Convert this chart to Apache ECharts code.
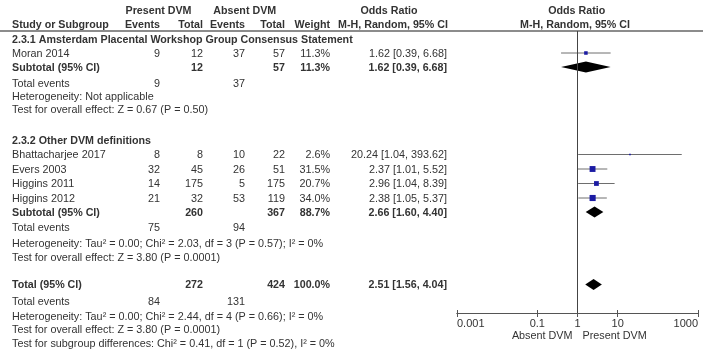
<!DOCTYPE html>
<html>
<head>
<meta charset="utf-8">
<script src="https://cdn.jsdelivr.net/npm/echarts@6/dist/echarts.min.js"></script>
<style>
  html, body { margin: 0; padding: 0; background: #fff; }
  #forest { width: 709px; height: 351px; }
</style>
</head>
<body>
<div id="forest"></div>
<script>
// --- data ---
var studyNames = ['Moran 2014', 'Bhattacharjee 2017', 'Evers 2003', 'Higgins 2011', 'Higgins 2012'];
var presentEvents = [9, 8, 32, 14, 21];
var presentTotal = [12, 8, 45, 175, 32];
var absentEvents = [37, 10, 26, 5, 53];
var absentTotal = [57, 22, 51, 175, 119];
var studyWeight = [11.3, 2.6, 31.5, 20.7, 34.0];
var studyOR = [1.62, 20.24, 2.37, 2.96, 2.38];
var studyLow = [0.39, 1.04, 1.01, 1.04, 1.05];
var studyHigh = [6.68, 393.62, 5.52, 8.39, 5.37];

var groupTitles = ['2.3.1 Amsterdam Placental Workshop Group Consensus Statement', '2.3.2 Other DVM definitions'];
var pooledNames = ['Subtotal (95% CI)', 'Subtotal (95% CI)', 'Total (95% CI)'];
var pooledPresentTotal = [12, 260, 272];
var pooledAbsentTotal = [57, 367, 424];
var pooledWeight = [11.3, 88.7, 100.0];
var pooledOR = [1.62, 2.66, 2.51];
var pooledLow = [0.39, 1.60, 1.56];
var pooledHigh = [6.68, 4.40, 4.04];
var pooledPresentEvents = [9, 75, 84];
var pooledAbsentEvents = [37, 94, 131];
var heterogeneity = [
  'Heterogeneity: Not applicable',
  'Heterogeneity: Tau\u00b2 = 0.00; Chi\u00b2 = 2.03, df = 3 (P = 0.57); I\u00b2 = 0%',
  'Heterogeneity: Tau\u00b2 = 0.00; Chi\u00b2 = 2.44, df = 4 (P = 0.66); I\u00b2 = 0%'
];
var overallEffect = [
  'Test for overall effect: Z = 0.67 (P = 0.50)',
  'Test for overall effect: Z = 3.80 (P = 0.0001)',
  'Test for overall effect: Z = 3.80 (P = 0.0001)'
];
var subgroupTest = 'Test for subgroup differences: Chi\u00b2 = 0.41, df = 1 (P = 0.52), I\u00b2 = 0%';
var tickValues = [0.001, 0.1, 1, 10, 1000];
var favourLabels = ['Absent DVM', 'Present DVM'];

// --- layout (row positions on the y scale, column anchors) ---
var rowHeader = [10, 24];
var rowTitle = [39, 140];
var rowStudy = [53, 154.5, 169, 183.5, 198];
var rowPooled = [67, 212, 284.5];
var rowEvents = [83, 227.5, 301];
var rowHet = [96.5, 243.5, 316];
var rowTest = [109.5, 257, 329.5];
var rowSubgroup = 343.5;
var col = { study: 12, pEv: 160, pTot: 203, aEv: 245, aTot: 285, weight: 330, orTxt: 447 };

var REG = '10.8px "Liberation Sans", Arial, sans-serif';
var BOLD = 'bold 10.7px "Liberation Sans", Arial, sans-serif';
var TXT = '#333';

var chart = echarts.init(document.getElementById('forest'));

function fmtCI(e, l, h) {
  return e.toFixed(2) + ' [' + l.toFixed(2) + ', ' + h.toFixed(2) + ']';
}

var studyData = studyNames.map(function (n, i) {
  return [studyLow[i], studyOR[i], studyHigh[i], rowStudy[i], studyWeight[i]];
});
var pooledData = pooledNames.map(function (n, i) {
  return [pooledLow[i], pooledOR[i], pooledHigh[i], rowPooled[i]];
});

var logAxis = {
  type: 'log',
  logBase: 10,
  min: 0.001,
  max: 1000,
  splitLine: { show: false },
  axisLine: { show: true, onZero: false, lineStyle: { color: '#555', width: 1 } }
};

chart.setOption({
  animation: false,
  grid: { left: 457, right: 11, top: 31, bottom: 38 },
  xAxis: [
    Object.assign({}, logAxis, {
      position: 'bottom',
      axisTick: { show: true, length: 4, customValues: tickValues, lineStyle: { color: '#555' } },
      axisLabel: {
        show: true, customValues: tickValues, margin: 5, color: TXT,
        fontFamily: '"Liberation Sans", Arial, sans-serif', fontSize: 11,
        alignMinLabel: 'left', alignMaxLabel: 'right',
        formatter: function (v) { return String(+v.toPrecision(3)); }
      }
    }),
    Object.assign({}, logAxis, {
      position: 'bottom', offset: 0,
      axisTick: { show: true, inside: true, length: 3, customValues: tickValues, lineStyle: { color: '#555' } },
      axisLabel: { show: false }
    })
  ],
  yAxis: { type: 'value', inverse: true, min: 31, max: 313, show: false },
  series: [
    {
      type: 'custom',
      name: 'studies',
      encode: { x: [0, 1, 2], y: 3 },
      data: studyData,
      renderItem: function (params, api) {
        var y = api.value(3);
        var a = api.coord([api.value(0), y]);
        var b = api.coord([api.value(2), y]);
        var c = api.coord([api.value(1), y]);
        var s = Math.sqrt(api.value(4)) * 1.05;
        return {
          type: 'group',
          children: [
            { type: 'line', shape: { x1: a[0], y1: a[1], x2: b[0], y2: b[1] },
              style: { stroke: '#6e6e6e', lineWidth: 1 } },
            { type: 'rect', shape: { x: c[0] - s / 2, y: c[1] - s / 2, width: s, height: s },
              style: { fill: '#1b1ba3' } }
          ]
        };
      },
      markLine: {
        silent: true, symbol: 'none', label: { show: false },
        lineStyle: { color: '#444', width: 1, type: 'solid' },
        data: [{ xAxis: 1 }]
      }
    },
    {
      type: 'custom',
      name: 'pooled',
      encode: { x: [0, 1, 2], y: 3 },
      data: pooledData,
      renderItem: function (params, api) {
        var y = api.value(3);
        var a = api.coord([api.value(0), y]);
        var b = api.coord([api.value(2), y]);
        var c = api.coord([api.value(1), y]);
        var h = 5.5;
        return {
          type: 'polygon',
          shape: { points: [[a[0], a[1]], [c[0], c[1] - h], [b[0], b[1]], [c[0], c[1] + h]] },
          style: { fill: '#000' }
        };
      }
    }
  ]
});

// --- table text, placed on the same y scale ---
function py(v) { return chart.convertToPixel({ yAxisIndex: 0 }, v) + 1; }
var texts = [];
function txt(s, x, y, align, bold) {
  texts.push({
    type: 'text', silent: true,
    style: { text: String(s), x: x, y: py(y), align: align, verticalAlign: 'middle', font: bold ? BOLD : REG, fill: TXT }
  });
}

txt('Present DVM', 158.5, rowHeader[0], 'center', true);
txt('Absent DVM', 244.7, rowHeader[0], 'center', true);
txt('Odds Ratio', 389, rowHeader[0], 'center', true);
txt('Odds Ratio', 576.7, rowHeader[0], 'center', true);
txt('Study or Subgroup', col.study, rowHeader[1], 'left', true);
txt('Events', col.pEv, rowHeader[1], 'right', true);
txt('Total', col.pTot, rowHeader[1], 'right', true);
txt('Events', col.aEv, rowHeader[1], 'right', true);
txt('Total', col.aTot, rowHeader[1], 'right', true);
txt('Weight', col.weight, rowHeader[1], 'right', true);
txt('M-H, Random, 95% CI', 393, rowHeader[1], 'center', true);
txt('M-H, Random, 95% CI', 575, rowHeader[1], 'center', true);

groupTitles.forEach(function (t, g) { txt(t, col.study, rowTitle[g], 'left', true); });

studyNames.forEach(function (n, i) {
  var y = rowStudy[i];
  txt(n, col.study, y, 'left', false);
  txt(presentEvents[i], col.pEv, y, 'right', false);
  txt(presentTotal[i], col.pTot, y, 'right', false);
  txt(absentEvents[i], col.aEv, y, 'right', false);
  txt(absentTotal[i], col.aTot, y, 'right', false);
  txt(studyWeight[i].toFixed(1) + '%', col.weight, y, 'right', false);
  txt(fmtCI(studyOR[i], studyLow[i], studyHigh[i]), col.orTxt, y, 'right', false);
});

pooledNames.forEach(function (n, g) {
  var y = rowPooled[g];
  txt(n, col.study, y, 'left', true);
  txt(pooledPresentTotal[g], col.pTot, y, 'right', true);
  txt(pooledAbsentTotal[g], col.aTot, y, 'right', true);
  txt(pooledWeight[g].toFixed(1) + '%', col.weight, y, 'right', true);
  txt(fmtCI(pooledOR[g], pooledLow[g], pooledHigh[g]), col.orTxt, y, 'right', true);
  txt('Total events', col.study, rowEvents[g], 'left', false);
  txt(pooledPresentEvents[g], col.pEv, rowEvents[g], 'right', false);
  txt(pooledAbsentEvents[g], col.aEv, rowEvents[g], 'right', false);
  txt(heterogeneity[g], col.study, rowHet[g], 'left', false);
  txt(overallEffect[g], col.study, rowTest[g], 'left', false);
});
txt(subgroupTest, col.study, rowSubgroup, 'left', false);

// favour labels either side of the line of no effect
var xOne = chart.convertToPixel({ xAxisIndex: 0 }, 1);
txt(favourLabels[0], xOne - 5, 335, 'right', false);
txt(favourLabels[1], xOne + 5, 335, 'left', false);

// header rule
var ruleY = chart.convertToPixel({ yAxisIndex: 0 }, 31);
texts.push({
  type: 'line', silent: true,
  shape: { x1: 0, y1: ruleY, x2: 703, y2: ruleY },
  style: { stroke: '#666', lineWidth: 1.5 }
});

chart.setOption({ graphic: texts });
</script>
</body>
</html>
